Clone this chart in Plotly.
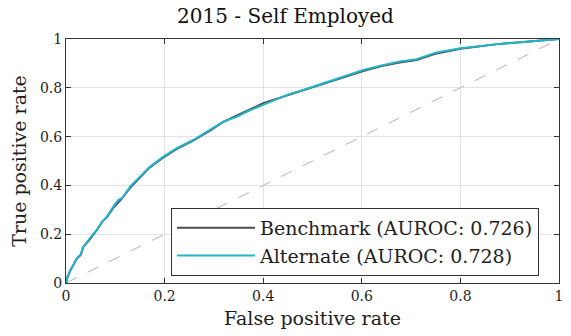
import plotly.graph_objects as go

# ROC curve points (false positive rate, true positive rate)
bench_fpr = [0.0, 0.004, 0.011, 0.022, 0.030, 0.035, 0.048, 0.062, 0.075, 0.083, 0.096, 0.103, 0.112, 0.13, 0.15,
             0.17, 0.197, 0.224, 0.258, 0.292, 0.319, 0.346, 0.373, 0.40, 0.45, 0.475, 0.52, 0.562, 0.603, 0.64,
             0.677, 0.711, 0.752, 0.80, 0.84, 0.88, 0.94, 1.0]
bench_tpr = [0.0, 0.03, 0.06, 0.10, 0.115, 0.148, 0.178, 0.215, 0.255, 0.270, 0.308, 0.324, 0.343, 0.390, 0.433,
             0.474, 0.514, 0.549, 0.584, 0.624, 0.660, 0.684, 0.711, 0.737, 0.770, 0.784, 0.814, 0.843, 0.869, 0.889,
             0.904, 0.914, 0.941, 0.960, 0.970, 0.980, 0.990, 1.0]
alt_fpr = [0.0, 0.004, 0.011, 0.022, 0.030, 0.035, 0.048, 0.062, 0.075, 0.083, 0.096, 0.106, 0.115, 0.13, 0.15,
           0.17, 0.197, 0.224, 0.258, 0.292, 0.319, 0.346, 0.373, 0.40, 0.45, 0.475, 0.52, 0.562, 0.603, 0.64,
           0.677, 0.711, 0.752, 0.80, 0.84, 0.88, 0.94, 1.0]
alt_tpr = [0.0, 0.032, 0.06, 0.10, 0.118, 0.148, 0.182, 0.217, 0.255, 0.272, 0.313, 0.340, 0.350, 0.395, 0.436,
           0.476, 0.517, 0.552, 0.586, 0.627, 0.661, 0.681, 0.708, 0.730, 0.772, 0.787, 0.817, 0.848, 0.873, 0.892,
           0.908, 0.917, 0.945, 0.962, 0.971, 0.980, 0.990, 1.0]

chance = [0.0, 1.0]
tick_vals = [0, 0.2, 0.4, 0.6, 0.8, 1]
tick_text = ["0", "0.2", "0.4", "0.6", "0.8", "1"]

names = ["Benchmark (AUROC: 0.726)", "Alternate (AUROC: 0.728)"]

FONT = "DejaVu Serif"
INK = "#1e1e1e"

fig = go.Figure()
fig.add_trace(go.Scatter(x=chance, y=chance, mode="lines", showlegend=False,
                         line=dict(color="#b4b4b4", width=1, dash="12px,12px"), hoverinfo="skip"))
fig.add_trace(go.Scatter(x=bench_fpr, y=bench_tpr, mode="lines", name=names[0],
                         line=dict(color="#4d4d4d", width=2)))
fig.add_trace(go.Scatter(x=alt_fpr, y=alt_tpr, mode="lines", name=names[1],
                         line=dict(color="#21b5cc", width=2)))

axis_common = dict(
    range=[0, 1], tickvals=tick_vals, ticktext=tick_text,
    showgrid=True, gridcolor="#e3e3e3", gridwidth=1,
    showline=True, linecolor="#333333", linewidth=1, mirror="ticks",
    ticks="inside", ticklen=5, tickcolor="#333333", automargin=False,
    zeroline=False, tickfont=dict(family=FONT, size=14, color=INK),
)

fig.update_layout(
    width=571, height=336,
    margin=dict(l=66, r=12, t=39, b=53, autoexpand=False),
    paper_bgcolor="white", plot_bgcolor="white",
    title=dict(text="2015 - Self Employed", x=0.5, xanchor="center", y=0.952, yanchor="middle",
               font=dict(family=FONT, size=20, color="#111111")),
    xaxis=dict(axis_common, title=dict(text="False positive rate", font=dict(family=FONT, size=19, color=INK),
                                       standoff=8)),
    yaxis=dict(axis_common, title=dict(text="True positive rate", font=dict(family=FONT, size=19, color=INK),
                                       standoff=8)),
    legend=dict(x=0.213, y=0.308, xanchor="left", yanchor="top",
                bgcolor="white", bordercolor="#333333", borderwidth=1,
                font=dict(family=FONT, size=19, color=INK),
                itemwidth=78, tracegroupgap=0),
    showlegend=True,
)

fig.write_html("out.html")
